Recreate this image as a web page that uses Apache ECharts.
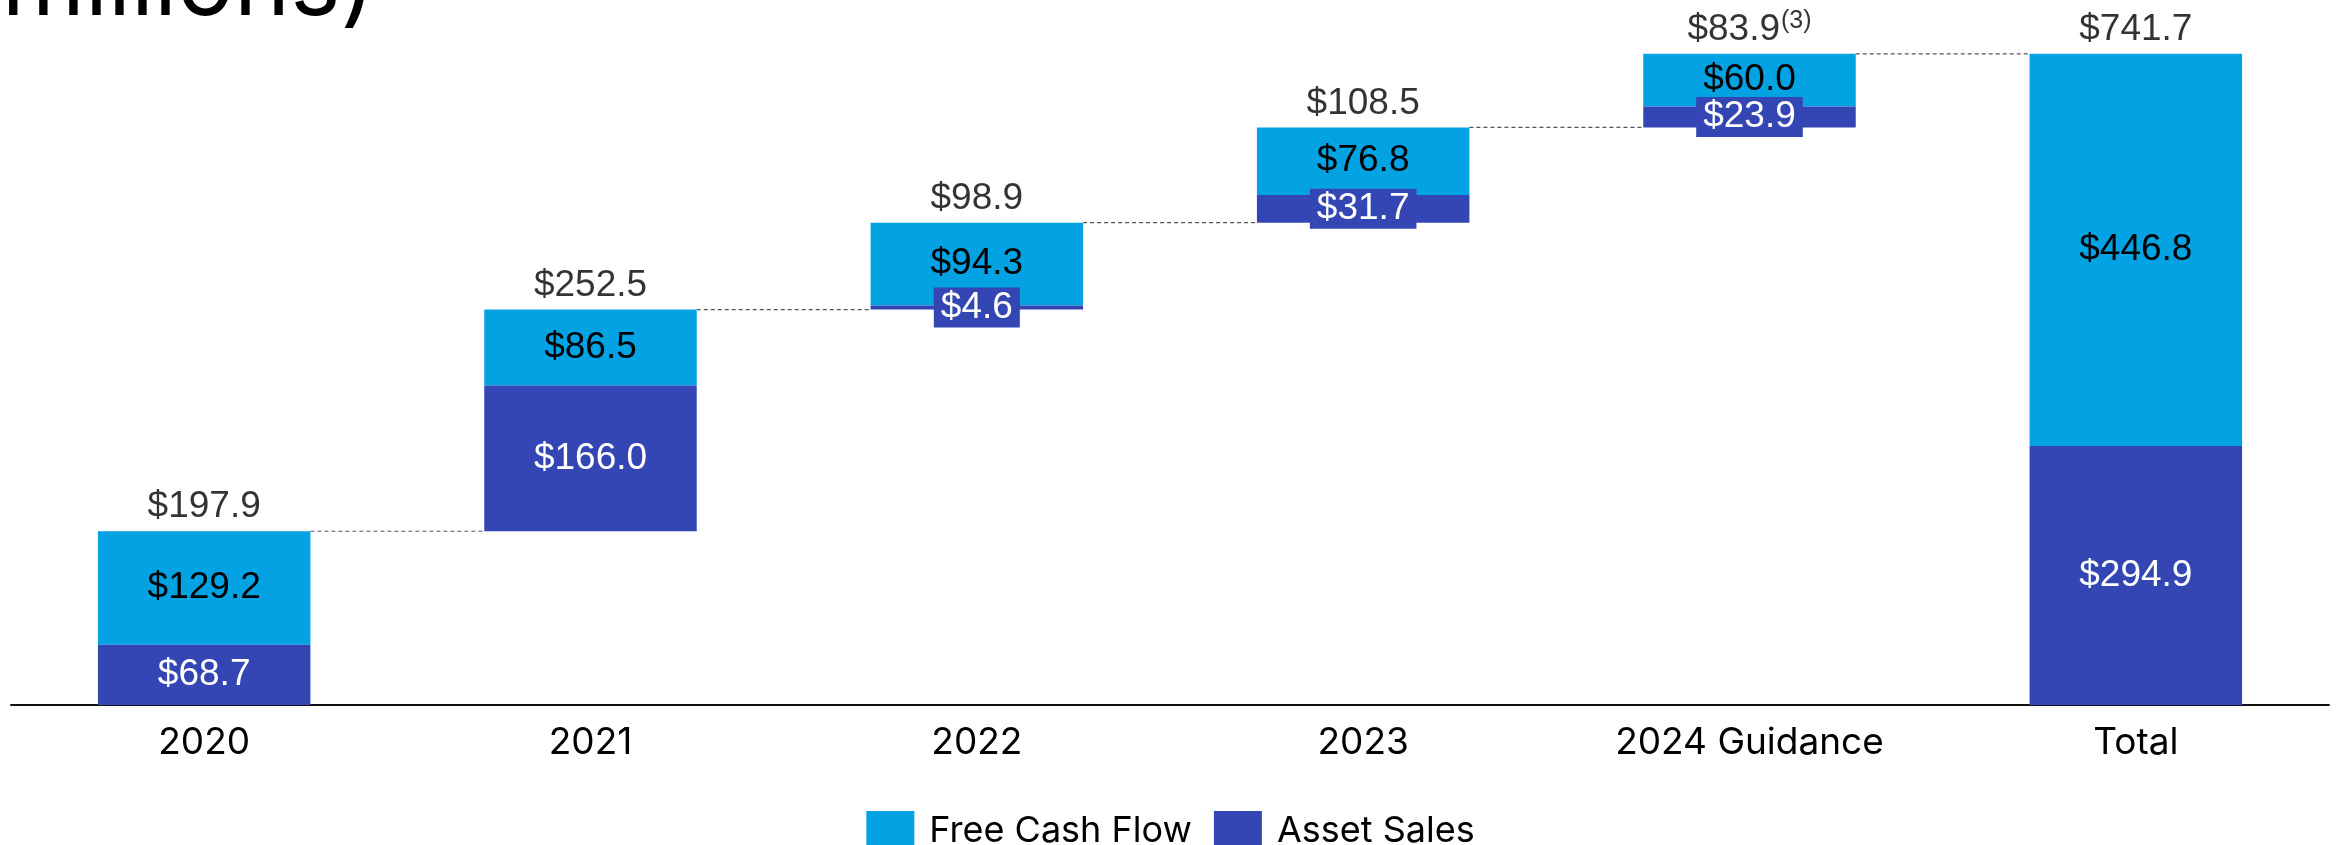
<!DOCTYPE html>
<html>
<head>
<meta charset="utf-8">
<script src="https://cdn.jsdelivr.net/npm/echarts@6/dist/echarts.min.js"></script>
<style>
  html, body { margin: 0; padding: 0; background: #fff; }
  #chart { width: 2341px; height: 845px; }
</style>
</head>
<body>
<div id="chart"></div>
<script>
// Cumulative free cash flow and asset sales ($ in millions)
const categories = ['2020', '2021', '2022', '2023', '2024 Guidance', 'Total'];
const assetSales = [68.7, 166.0, 4.6, 31.7, 23.9, 294.9];
const freeCashFlow = [129.2, 86.5, 94.3, 76.8, 60.0, 446.8];
const yearTotals = [197.9, 252.5, 98.9, 108.5, 83.9, 741.7];
const totalFootnotes = ['', '', '', '', '(3)', ''];

const FCF_COLOR = '#03a2e3';
const ASSET_COLOR = '#3446b4';
const BAR_RATIO = 0.55;
const VALUE_FONT = '"Liberation Sans", Arial, sans-serif';
const UI_FONT = 'Inter, "Noto Sans", sans-serif';

// Invisible base for each floating step; the last bar starts from zero
const bases = [];
let running = 0;
yearTotals.forEach((t, i) => {
  const isTotal = i === yearTotals.length - 1;
  bases.push(isTotal ? 0 : running);
  if (!isTotal) running += t;
});
const tops = yearTotals.map((t, i) => bases[i] + t);

// Connector levels: top of each step, carried to the next bar
const connectors = [];
for (let i = 0; i < categories.length - 1; i++) connectors.push([i, tops[i]]);

const money = v => '$' + v.toFixed(1);

const chart = echarts.init(document.getElementById('chart'), null, { renderer: 'canvas' });

chart.setOption({
  animation: false,
  backgroundColor: '#ffffff',
  graphic: [{
    type: 'text',
    right: 2341 - 375,
    top: -61,
    style: {
      text: '($ in millions)',
      font: '400 95px ' + UI_FONT,
      fill: '#000'
    }
  }],
  legend: {
    data: ['Free Cash Flow', 'Asset Sales'],
    left: 'center',
    top: 806,
    icon: 'rect',
    itemWidth: 48,
    itemHeight: 40,
    itemGap: 22,
    textStyle: { fontFamily: UI_FONT, fontSize: 36, color: '#000', padding: [0, 0, 0, 10] }
  },
  grid: { left: 11, right: 12, top: 2.6, bottom: 140, containLabel: false },
  xAxis: {
    type: 'category',
    data: categories,
    axisLine: { lineStyle: { color: '#111', width: 2 } },
    axisTick: { show: false },
    axisLabel: { fontFamily: UI_FONT, fontSize: 37, color: '#000', margin: 19 }
  },
  yAxis: {
    type: 'value',
    min: 0,
    max: 800,
    show: false,
    splitLine: { show: false }
  },
  series: [
    {
      name: 'base',
      type: 'bar',
      stack: 'w',
      silent: true,
      barWidth: (BAR_RATIO * 100) + '%',
      itemStyle: { color: 'rgba(0,0,0,0)' },
      data: bases
    },
    {
      name: 'Asset Sales',
      type: 'bar',
      stack: 'w',
      barWidth: (BAR_RATIO * 100) + '%',
      itemStyle: { color: ASSET_COLOR },
      z: 4,
      label: {
        show: true,
        position: 'inside',
        formatter: p => money(p.value),
        fontFamily: VALUE_FONT,
        fontSize: 37,
        color: '#fff',
        backgroundColor: ASSET_COLOR,
        padding: [1, 7, 0, 7],
        lineHeight: 39
      },
      data: assetSales
    },
    {
      name: 'Free Cash Flow',
      type: 'bar',
      stack: 'w',
      barWidth: (BAR_RATIO * 100) + '%',
      itemStyle: { color: FCF_COLOR },
      z: 2,
      label: {
        show: true,
        position: 'inside',
        formatter: p => money(p.value),
        fontFamily: VALUE_FONT,
        fontSize: 37,
        color: '#000'
      },
      data: freeCashFlow
    },
    {
      name: 'totals',
      type: 'scatter',
      symbolSize: 0,
      silent: true,
      z: 5,
      label: {
        show: true,
        position: 'top',
        distance: 3,
        formatter: p => {
          const note = totalFootnotes[p.dataIndex];
          return '{v|' + money(yearTotals[p.dataIndex]) + '}' + (note ? '{s|' + note + '}' : '');
        },
        rich: {
          v: { fontFamily: VALUE_FONT, fontSize: 37, color: '#000', lineHeight: 42 },
          s: { fontFamily: VALUE_FONT, fontSize: 25, color: '#000', lineHeight: 42, verticalAlign: 'top', padding: [0, 0, 12, 1] }
        }
      },
      data: tops.map((v, i) => [i, v])
    },
    {
      name: 'connectors',
      type: 'custom',
      silent: true,
      encode: { x: 0, y: 1 },
      renderItem: (params, api) => {
        const i = api.value(0);
        const v = api.value(1);
        const a = api.coord([i, v]);
        const b = api.coord([i + 1, v]);
        const half = api.size([1, 0])[0] * BAR_RATIO / 2;
        return {
          type: 'line',
          shape: { x1: a[0] + half, y1: a[1], x2: b[0] - half, y2: b[1] },
          style: { stroke: '#555', lineWidth: 1.2, lineDash: [4, 3] }
        };
      },
      data: connectors
    }
  ]
});
</script>
</body>
</html>
